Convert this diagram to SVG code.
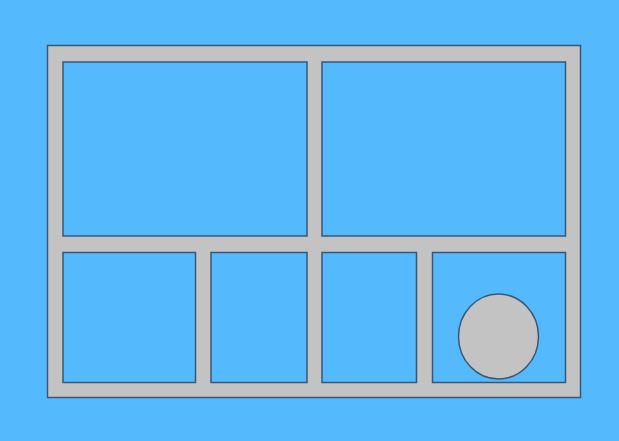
<svg xmlns="http://www.w3.org/2000/svg" width="619" height="441" viewBox="0 0 619 441">
<style>
.frame{fill:#c3c3c3;stroke:#3b5775;stroke-width:1.5}
.pane{fill:#55b9fd;stroke:#3b5775;stroke-width:1.5}
</style>
<rect x="0" y="0" width="619" height="441" fill="#55b9fd"/>
<g id="frame"><rect class="frame" x="47.5" y="45.5" width="533" height="352"/></g>
<g id="pane-top-left"><rect class="pane" x="63" y="62" width="244" height="174"/></g>
<g id="pane-top-right"><rect class="pane" x="322" y="62" width="243.5" height="174"/></g>
<g id="pane-bottom-1"><rect class="pane" x="63" y="252.5" width="132.5" height="130"/></g>
<g id="pane-bottom-2"><rect class="pane" x="211" y="252.5" width="96" height="130"/></g>
<g id="pane-bottom-3"><rect class="pane" x="322" y="252.5" width="94.5" height="130"/></g>
<g id="pane-bottom-4"><rect class="pane" x="432.5" y="252.5" width="133" height="130"/></g>
<g id="knob"><ellipse class="frame" cx="498.5" cy="336.5" rx="40" ry="42.5"/></g>
<g id="connectors"/>
</svg>
